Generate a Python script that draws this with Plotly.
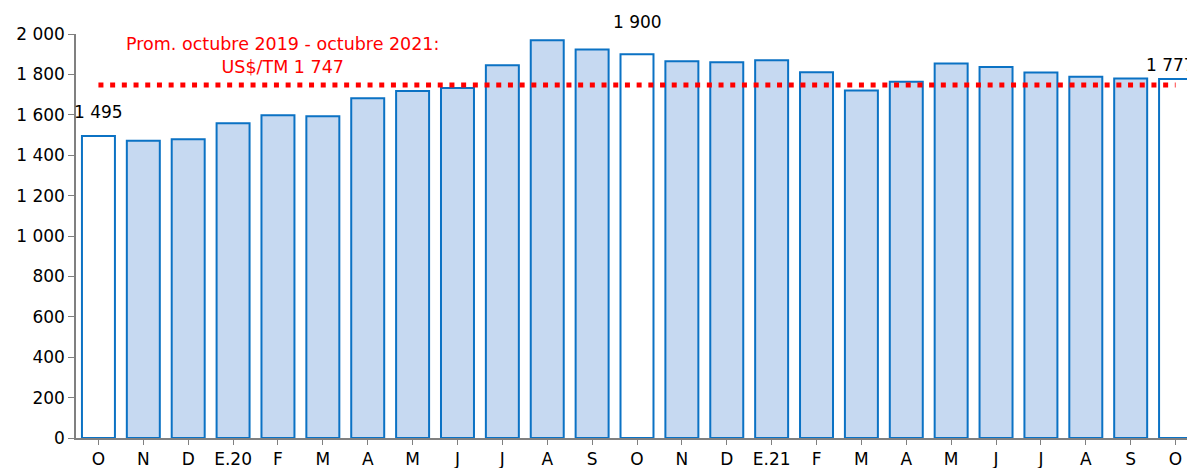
import plotly.graph_objects as go

# monthly price, Oct 2019 - Oct 2021 (US$/TM)
months = ["O", "N", "D", "E.20", "F", "M", "A", "M", "J", "J", "A", "S",
          "O", "N", "D", "E.21", "F", "M", "A", "M", "J", "J", "A", "S", "O"]
prices = [1495, 1472, 1479, 1558, 1598, 1593, 1682, 1718, 1733, 1845, 1969, 1923,
          1900, 1865, 1860, 1870, 1811, 1720, 1763, 1854, 1837, 1809, 1788, 1780, 1777]
average = 1747
avg_text = "Prom. octubre 2019 - octubre 2021:<br>US$/TM 1 747"
highlight = [0, 12, 24]          # bars drawn white and labelled
label_shift = {0: (0, 24), 12: (0, 32), 24: (-5, 14)}

FONT = "DejaVu Sans"
BLUE = "#0B72C4"
FILL = "#C6D9F1"

x = list(range(len(months)))
fills = ["white" if i in highlight else FILL for i in x]

fig = go.Figure()
fig.add_trace(go.Bar(
    x=x, y=prices,
    marker=dict(color=fills, line=dict(color=BLUE, width=2)),
    hoverinfo="y",
))

# average line (red dotted)
fig.add_trace(go.Scatter(
    x=[x[0], x[-1]], y=[average, average],
    mode="lines",
    line=dict(color="#FF0000", width=5, dash="5px,6.7px"),
    hoverinfo="skip",
))

annotations = []
for i in highlight:
    annotations.append(dict(
        x=i, y=prices[i], xref="x", yref="y",
        text=f"{prices[i]:,}".replace(",", " "),
        showarrow=False, yanchor="middle",
        xshift=label_shift[i][0], yshift=label_shift[i][1],
        font=dict(family=FONT, size=17, color="black"),
    ))
annotations.append(dict(
    x=4.1, y=1893, xref="x", yref="y",
    text=avg_text, showarrow=False, align="center",
    font=dict(family=FONT, size=17.5, color="#FF0000"),
))

# page body has an 8px margin, so the figure sits 8px right/down in the window
fig.update_layout(
    width=1195, height=468,
    margin=dict(l=68, r=5, t=26, b=38),
    plot_bgcolor="white", paper_bgcolor="white",
    showlegend=False,
    bargap=0.265,
    separators=", ",
    font=dict(family=FONT, size=17, color="black"),
    annotations=annotations,
    xaxis=dict(
        tickmode="array", tickvals=x, ticktext=months,
        range=[-0.5, 24.5], automargin=False,
        showline=True, linecolor="#808080", linewidth=1.5,
        ticks="outside", tickson="boundaries", ticklen=5, tickcolor="#808080",
        ticklabelstandoff=0,
        showgrid=False, zeroline=False,
    ),
    yaxis=dict(
        range=[0, 2000], dtick=200, tickformat=",d", automargin=False,
        showline=True, linecolor="#808080", linewidth=1.5,
        ticks="outside", ticklen=6, tickcolor="#808080",
        showgrid=False, zeroline=False,
    ),
)

fig.write_html("out.html")
